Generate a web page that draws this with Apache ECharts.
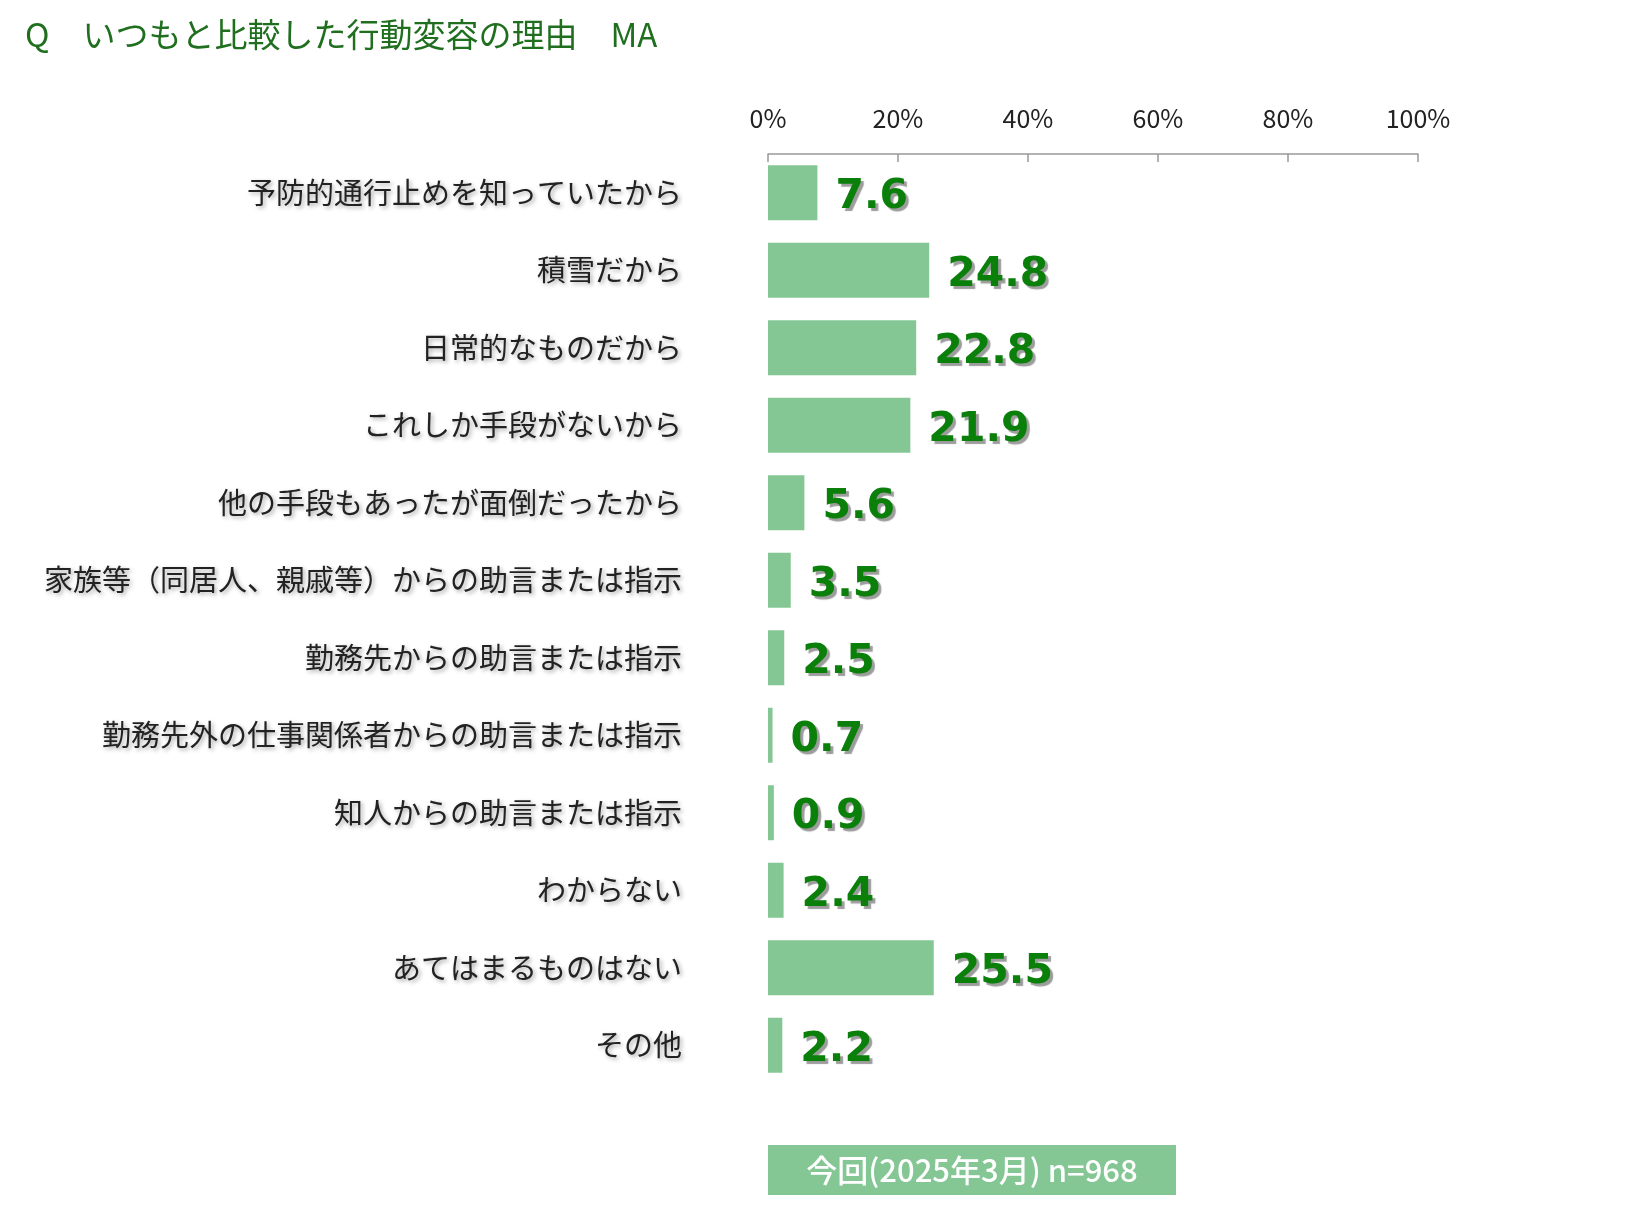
<!DOCTYPE html>
<html>
<head>
<meta charset="utf-8">
<title>いつもと比較した行動変容の理由</title>
<script src="https://cdn.jsdelivr.net/npm/echarts@6/dist/echarts.min.js"></script>
<style>
	html, body {margin: 0; padding: 0; background: #fff;}
	#chart {width: 1625px; height: 1206px;}
</style>
</head>
<body>
<div id="chart"></div>
<script>
	// categories (top to bottom) and values (%)
	var categories = [
		'予防的通行止めを知っていたから',
		'積雪だから',
		'日常的なものだから',
		'これしか手段がないから',
		'他の手段もあったが面倒だったから',
		'家族等（同居人、親戚等）からの助言または指示',
		'勤務先からの助言または指示',
		'勤務先外の仕事関係者からの助言または指示',
		'知人からの助言または指示',
		'わからない',
		'あてはまるものはない',
		'その他'
	];
	var values = [7.6, 24.8, 22.8, 21.9, 5.6, 3.5, 2.5, 0.7, 0.9, 2.4, 25.5, 2.2];
	var seriesName = '今回(2025年3月) n=968';

	var barColor = '#84c794';
	var jpFont = '"Noto Sans CJK JP", sans-serif';

	var e = echarts.init(document.getElementById('chart'));
	var u = {
		animation: false,
		title: {
			text: 'Q　いつもと比較した行動変容の理由　MA',
			left: 20,
			top: 13,
			textStyle: {
				color: '#1f6f1f',
				fontFamily: jpFont,
				fontWeight: 'normal',
				fontSize: 33
			}
		},
		grid: {
			left: 768,
			top: 154,
			width: 650,
			height: 930,
			containLabel: false
		},
		xAxis: {
			type: 'value',
			position: 'top',
			min: 0,
			max: 100,
			interval: 20,
			axisLine: {show: true, lineStyle: {color: '#999', width: 1.5}},
			axisTick: {show: true, inside: true, length: 8, lineStyle: {color: '#999', width: 1.5}},
			splitLine: {show: false},
			axisLabel: {
				formatter: '{value}%',
				margin: 23,
				color: '#222',
				fontFamily: jpFont,
				fontSize: 25
			}
		},
		yAxis: {
			type: 'category',
			inverse: true,
			data: categories,
			axisLine: {show: false},
			axisTick: {show: false},
			axisLabel: {
				margin: 86,
				color: '#222',
				fontFamily: jpFont,
				fontSize: 29,
				textShadowColor: 'rgba(0,0,0,0.35)',
				textShadowBlur: 4,
				textShadowOffsetX: 2,
				textShadowOffsetY: 2
			}
		},
		series: [{
			name: seriesName,
			type: 'bar',
			data: values,
			barWidth: 55,
			itemStyle: {color: barColor},
			label: {
				show: true,
				position: 'right',
				distance: 18,
				offset: [0, 5],
				formatter: function(p){ return p.value.toFixed(1); },
				color: '#0a800a',
				fontFamily: '"DejaVu Sans", sans-serif',
				fontWeight: 'bold',
				fontSize: 41,
				textShadowColor: 'rgba(90,90,90,0.6)',
				textShadowBlur: 1,
				textShadowOffsetX: 3,
				textShadowOffsetY: 3
			}
		}],
		graphic: [{
			type: 'group',
			left: 768,
			top: 1145,
			children: [{
				type: 'rect',
				shape: {x: 0, y: 0, width: 408, height: 50},
				style: {fill: barColor}
			}, {
				type: 'text',
				x: 204,
				y: 25,
				style: {
					text: seriesName,
					fill: '#fff',
					font: '500 31px "Noto Sans CJK JP", sans-serif',
					align: 'center',
					verticalAlign: 'middle'
				}
			}]
		}]
	};
	e.setOption(u);
	window.addEventListener('resize', e.resize);
</script>
</body>
</html>
